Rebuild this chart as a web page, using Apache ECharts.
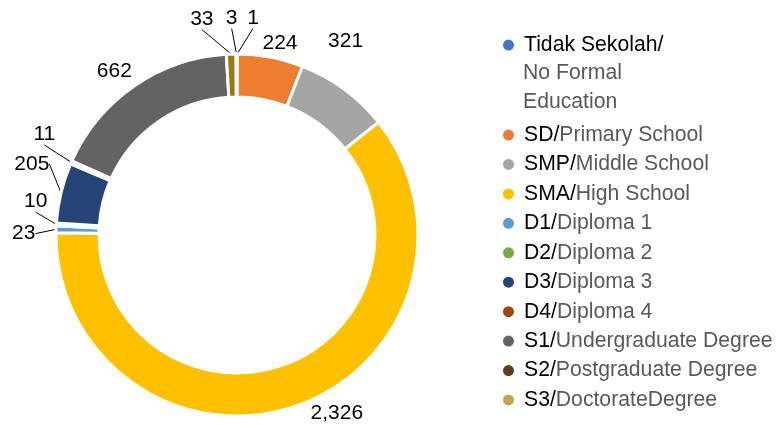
<!DOCTYPE html>
<html>
<head>
<meta charset="utf-8">
<script src="https://cdn.jsdelivr.net/npm/echarts@6/dist/echarts.min.js"></script>
<style>
html,body{margin:0;padding:0;background:#fff;}
#chart{width:779px;height:428px;}
</style>
</head>
<body>
<div id="chart"></div>
<script>
const categories = [
  'Tidak Sekolah/No Formal Education',
  'SD/Primary School',
  'SMP/Middle School',
  'SMA/High School',
  'D1/Diploma 1',
  'D2/Diploma 2',
  'D3/Diploma 3',
  'D4/Diploma 4',
  'S1/Undergraduate Degree',
  'S2/Postgraduate Degree',
  'S3/DoctorateDegree'
];
const values = [1, 224, 321, 2326, 23, 10, 205, 11, 662, 33, 3];
const colors = ['#4472C4', '#ED7D31', '#A5A5A5', '#FFC000', '#5B9BD5', '#70AD47',
                '#264478', '#9E480E', '#636363', '#5E3D1B', '#C5A352'];
const bigSlices = ['SD/Primary School', 'SMP/Middle School', 'SMA/High School', 'S1/Undergraduate Degree'];

// label nudges (style only), relative to ECharts' own outside-label layout
const labelNudge = [
  [5, -24], [-66, -22], [-34, -47], [6, -3], [-9, -13], [3, -22],
  [0, -26], [-5, -23], [20, -17], [68, -46], [6, -24]
];

const FONT = '"Liberation Sans", Arial, sans-serif';
const chart = echarts.init(document.getElementById('chart'), null, {renderer: 'canvas'});

const legendText = {
  fontFamily: FONT, fontSize: 21.2, lineHeight: 29.44, padding: [0, 0, 0, 4],
  rich: {
    a: {color: '#000', fontFamily: FONT, fontSize: 21.2, lineHeight: 29.44},
    b: {color: '#595959', fontFamily: FONT, fontSize: 21.2, lineHeight: 29.44}
  }
};
function legendFmt(name) {
  const i = name.indexOf('/');
  if (name.indexOf('Tidak') === 0) return '{a|Tidak Sekolah/}';
  return '{a|' + name.slice(0, i + 1) + '}{b|' + name.slice(i + 1) + '}';
}
const legendItems = categories.map((c, i) => ({name: c, itemStyle: {color: colors[i]}}));

const option = {
  backgroundColor: '#fff',
  color: colors,
  legend: [
    {
      orient: 'vertical', left: 501, top: 30.3, padding: 0, itemGap: 0,
      itemWidth: 13, itemHeight: 13, icon: 'circle',
      data: legendItems.slice(0, 1), formatter: legendFmt, textStyle: legendText,
      selectedMode: false
    },
    {
      orient: 'vertical', left: 501, top: 120.3, padding: 0, itemGap: 0,
      itemWidth: 13, itemHeight: 13, icon: 'circle',
      data: legendItems.slice(1), formatter: legendFmt, textStyle: legendText,
      selectedMode: false
    }
  ],
  graphic: [
    {type: 'text', left: 523, top: 63, style: {text: 'No Formal', fill: '#595959', font: '21.2px ' + FONT}},
    {type: 'text', left: 523, top: 92, style: {text: 'Education', fill: '#595959', font: '21.2px ' + FONT}}
  ],
  series: [{
    type: 'pie',
    center: [237, 235],
    radius: [138, 181],
    startAngle: 90,
    clockwise: true,
    avoidLabelOverlap: true,
    itemStyle: {borderColor: '#fff', borderWidth: 3},
    label: {
      show: true, position: 'outside', color: '#000',
      fontFamily: FONT, fontSize: 21,
      formatter: p => p.value.toLocaleString('en-US')
    },
    labelLine: {show: true, length: 12, length2: 0, lineStyle: {color: '#000', width: 1}},
    labelLayout: function (params) {
      const n = labelNudge[params.dataIndex] || [0, 0];
      const r = params.labelRect;
      const ax = params.align === 'right' ? r.x + r.width
               : params.align === 'center' ? r.x + r.width / 2 : r.x;
      const ay = r.y + r.height / 2;
      return {x: ax + n[0], y: ay + n[1]};
    },
    emphasis: {disabled: true},
    data: categories.map((c, i) => {
      const d = {name: c, value: values[i], labelLine: {show: bigSlices.indexOf(c) < 0}};
      if (c.indexOf('S2/') === 0) d.itemStyle = {color: '#9C7A12'};
      return d;
    })
  }]
};
chart.setOption(option);
</script>
</body>
</html>
